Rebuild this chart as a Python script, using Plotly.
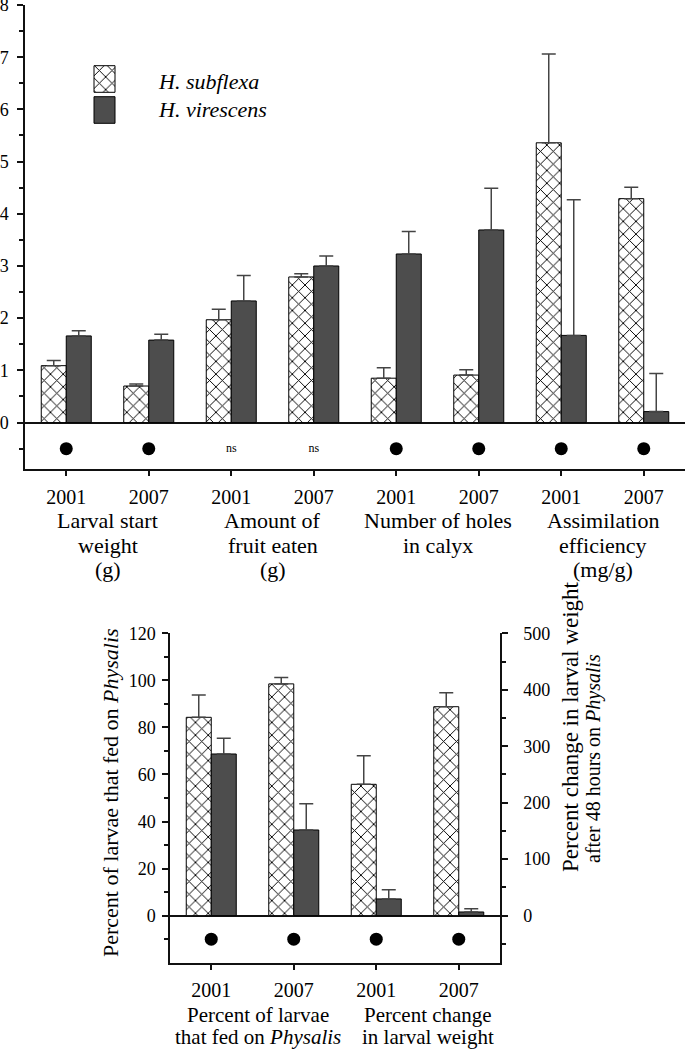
import plotly.graph_objects as go

W, H = 686, 1050
FONT = "Liberation Serif, Times New Roman, serif"

# ---------------- data: top chart ----------------
years_top = ["2001", "2007", "2001", "2007", "2001", "2007", "2001", "2007"]
groups_top = [["Larval start", "weight", "(g)"],
              ["Amount of", "fruit eaten", "(g)"],
              ["Number of holes", "in calyx"],
              ["Assimilation", "efficiency", "(mg/g)"]]
subflexa_top = [1.09, 0.70, 1.97, 2.79, 0.85, 0.91, 5.36, 4.29]
subflexa_top_se = [0.10, 0.04, 0.20, 0.06, 0.20, 0.10, 1.70, 0.22]
virescens_top = [1.66, 1.58, 2.33, 3.00, 3.23, 3.69, 1.67, 0.21]
virescens_top_se = [0.10, 0.11, 0.49, 0.19, 0.43, 0.80, 2.60, 0.73]
signif_top = ["dot", "dot", "ns", "ns", "dot", "dot", "dot", "dot"]

# ---------------- data: bottom chart ----------------
years_bottom = ["2001", "2007", "2001", "2007"]
groups_bottom = [["Percent of larvae", "that fed on <i>Physalis</i>"],
                 ["Percent change", "in larval weight"]]
fed_subflexa = [84.3, 98.5]
fed_subflexa_se = [9.5, 2.7]
fed_virescens = [68.7, 36.4]
fed_virescens_se = [6.7, 11.2]
change_subflexa = [232.6, 370.0]
change_subflexa_se = [50.7, 24.8]
change_virescens = [29.6, 6.5]
change_virescens_se = [16.4, 5.9]
signif_bottom = ["dot", "dot", "dot", "dot"]

species = ["H. subflexa", "H. virescens"]

# ---------------- styles ----------------
BW = 0.303
DARK = "#4d4d4d"
AX = "#111111"
hatch_marker = dict(color="white",
                    pattern=dict(shape="x", fgcolor="black", bgcolor="white",
                                 size=9, solidity=0.2, fillmode="replace"),
                    line=dict(color="black", width=1))
dark_marker = dict(color=DARK, line=dict(color="black", width=1))


def err(se):
    return dict(type="data", array=se, arrayminus=[0] * len(se), symmetric=False,
                color="#444444", thickness=1.5, width=7)


fig = go.Figure()

# top chart bars
xt = list(range(len(years_top)))
fig.add_trace(go.Bar(x=xt, y=subflexa_top, offset=-BW, width=BW, marker=hatch_marker,
                     error_y=err(subflexa_top_se), xaxis="x", yaxis="y", name=species[0]))
fig.add_trace(go.Bar(x=xt, y=virescens_top, offset=0, width=BW, marker=dark_marker,
                     error_y=err(virescens_top_se), xaxis="x", yaxis="y", name=species[1]))
dots = [i for i, s in enumerate(signif_top) if s == "dot"]
nss = [i for i, s in enumerate(signif_top) if s == "ns"]
fig.add_trace(go.Scatter(x=dots, y=[-0.5] * len(dots), mode="markers",
                         marker=dict(size=13, color="black"), xaxis="x", yaxis="y"))
fig.add_trace(go.Scatter(x=nss, y=[-0.5] * len(nss), mode="text", text=["ns"] * len(nss),
                         textfont=dict(size=12, family=FONT, color="black"),
                         xaxis="x", yaxis="y"))

# bottom chart bars
fig.add_trace(go.Bar(x=[0, 1], y=fed_subflexa, offset=-BW, width=BW, marker=hatch_marker,
                     error_y=err(fed_subflexa_se), xaxis="x2", yaxis="y2"))
fig.add_trace(go.Bar(x=[0, 1], y=fed_virescens, offset=0, width=BW, marker=dark_marker,
                     error_y=err(fed_virescens_se), xaxis="x2", yaxis="y2"))
fig.add_trace(go.Bar(x=[2, 3], y=change_subflexa, offset=-BW, width=BW, marker=hatch_marker,
                     error_y=err(change_subflexa_se), xaxis="x2", yaxis="y3"))
fig.add_trace(go.Bar(x=[2, 3], y=change_virescens, offset=0, width=BW, marker=dark_marker,
                     error_y=err(change_virescens_se), xaxis="x2", yaxis="y3"))
dots_b = [i for i, s in enumerate(signif_bottom) if s == "dot"]
fig.add_trace(go.Scatter(x=dots_b, y=[-10] * len(dots_b), mode="markers",
                         marker=dict(size=13, color="black"), xaxis="x2", yaxis="y2"))

# legend swatches (tiny subplot)
fig.add_trace(go.Bar(y=[0], x=[1], orientation="h", width=0.858, marker=hatch_marker,
                     xaxis="x4", yaxis="y4"))
fig.add_trace(go.Bar(y=[1], x=[1], orientation="h", width=0.858, marker=dark_marker,
                     xaxis="x4", yaxis="y4"))


def px(x):
    return x / W


def py(y):
    return 1 - y / H


tick_common = dict(ticks="outside", ticklen=6, tickwidth=1.5, tickcolor=AX,
                   showline=True, linecolor=AX, linewidth=1.5, showgrid=False,
                   mirror=False, automargin=False, ticklabeloverflow="allow")

fig.update_layout(
    width=W, height=H, margin=dict(l=0, r=0, t=0, b=0, autoexpand=False),
    paper_bgcolor="white", plot_bgcolor="white", showlegend=False,
    barmode="overlay", hovermode=False,
    font=dict(family=FONT, color="black", size=18),
    xaxis=dict(domain=[px(25), px(685)], range=[-0.5, 7.5], anchor="y",
               tickvals=xt, ticktext=years_top, tickfont=dict(size=20),
               ticklabelstandoff=4, zeroline=False, **tick_common),
    yaxis=dict(domain=[py(468.5), py(5)], range=[-0.88, 8], anchor="x",
               tickvals=list(range(0, 9)), tickfont=dict(size=18),
               ticklabelstandoff=5,
               minor=dict(tickvals=[k + 0.5 for k in range(-1, 8)], ticks="outside",
                          ticklen=4, tickwidth=1.5, tickcolor=AX),
               zeroline=True, zerolinecolor=AX, zerolinewidth=1.5, **tick_common),
    xaxis2=dict(domain=[px(170), px(500)], range=[-0.5, 3.5], anchor="y2",
                tickvals=[0, 1, 2, 3], ticktext=years_bottom, tickfont=dict(size=20),
                ticklabelstandoff=3, zeroline=False, **tick_common),
    yaxis2=dict(domain=[py(962.7), py(633.3)], range=[-20, 120], anchor="x2",
                tickvals=list(range(0, 121, 20)), tickfont=dict(size=18),
                ticklabelstandoff=3,
                minor=dict(tickvals=list(range(-10, 120, 20)), ticks="outside",
                           ticklen=4, tickwidth=1.5, tickcolor=AX),
                zeroline=True, zerolinecolor=AX, zerolinewidth=1.5, **tick_common),
    yaxis3=dict(overlaying="y2", side="right", anchor="x2",
                range=[-20 * 500 / 120, 500], tickvals=list(range(0, 501, 100)),
                tickfont=dict(size=18), ticklabelstandoff=12,
                minor=dict(tickvals=list(range(-50, 500, 100)), ticks="outside",
                           ticklen=4, tickwidth=1.5, tickcolor=AX),
                zeroline=False, **tick_common),
    xaxis4=dict(domain=[px(92.95), px(116.05)], range=[-0.05, 1.05], anchor="y4",
                visible=False, fixedrange=True),
    yaxis4=dict(domain=[py(124.85), py(64.15)], range=[1.479, -0.479], anchor="x4",
                visible=False, fixedrange=True),
)

ann = []
# legend labels
for name, yc in zip(species, [81.7, 110.0]):
    ann.append(dict(text=f"<i>{name}</i>", x=px(156), y=py(yc), xref="paper", yref="paper",
                    xanchor="left", yanchor="middle", showarrow=False,
                    font=dict(size=22, family=FONT)))
# top group labels
line_y_top = [520, 545, 569]
for g, lines in enumerate(groups_top):
    for k, line in enumerate(lines):
        ann.append(dict(text=line, x=2 * g + 0.5, xref="x", y=py(line_y_top[k]), yref="paper",
                        xanchor="center", yanchor="middle", showarrow=False,
                        font=dict(size=22, family=FONT)))
# bottom group labels
line_y_bot = [1015, 1037]
shifts = [5, 10]
for g, lines in enumerate(groups_bottom):
    for k, line in enumerate(lines):
        ann.append(dict(text=line, x=2 * g + 0.5, xref="x2", y=py(line_y_bot[k]), yref="paper",
                        xanchor="center", yanchor="middle", showarrow=False, xshift=shifts[g],
                        font=dict(size=21, family=FONT)))
# bottom left axis title
ann.append(dict(text="Percent of larvae that fed on <i>Physalis</i>", x=px(110), y=py(793),
                xref="paper", yref="paper", textangle=-90, xanchor="center", yanchor="middle",
                showarrow=False, font=dict(size=22, family=FONT)))
# bottom right axis title (two lines)
ann.append(dict(text="Percent change in larval weight", x=px(570), y=py(727),
                xref="paper", yref="paper", textangle=-90, xanchor="center", yanchor="middle",
                showarrow=False, font=dict(size=23, family=FONT)))
ann.append(dict(text="after 48 hours on <i>Physalis</i>", x=px(593), y=py(759),
                xref="paper", yref="paper", textangle=-90, xanchor="center", yanchor="middle",
                showarrow=False, font=dict(size=20, family=FONT)))
fig.update_layout(annotations=ann)

fig.write_html("out.html", config={"displayModeBar": False},
               post_script="document.body.style.margin='0';document.body.style.overflow='hidden';")
